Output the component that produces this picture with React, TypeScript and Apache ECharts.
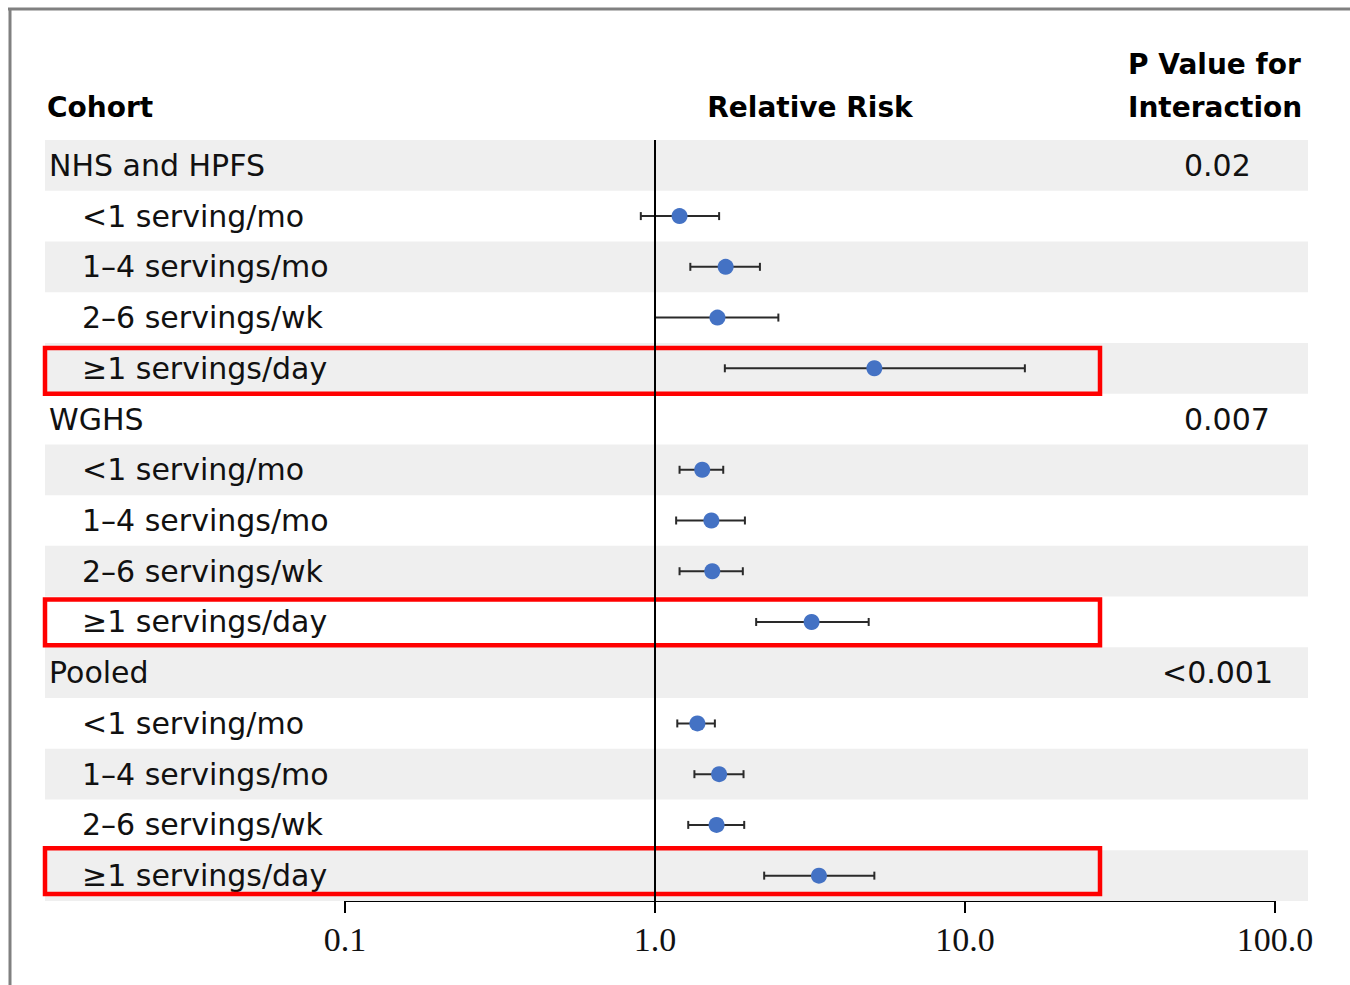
import React, { useEffect, useRef } from "react";
import * as echarts from "echarts";

// ---- Data ----
const rowLabels = [
  "NHS and HPFS",
  "<1 serving/mo",
  "1–4 servings/mo",
  "2–6 servings/wk",
  "≥1 servings/day",
  "WGHS",
  "<1 serving/mo",
  "1–4 servings/mo",
  "2–6 servings/wk",
  "≥1 servings/day",
  "Pooled",
  "<1 serving/mo",
  "1–4 servings/mo",
  "2–6 servings/wk",
  "≥1 servings/day",
];
const isGroupRow = [true, false, false, false, false, true, false, false, false, false, true, false, false, false, false];
const relativeRisk = [null, 1.2, 1.69, 1.59, 5.1, null, 1.42, 1.52, 1.53, 3.2, null, 1.37, 1.61, 1.58, 3.38];
const ciLow = [null, 0.9, 1.3, 1.0, 1.68, null, 1.2, 1.17, 1.2, 2.12, null, 1.18, 1.34, 1.28, 2.25];
const ciHigh = [null, 1.61, 2.18, 2.5, 15.6, null, 1.66, 1.95, 1.92, 4.89, null, 1.56, 1.93, 1.94, 5.1];
const pValues = ["0.02", "", "", "", "", "0.007", "", "", "", "", "<0.001", "", "", "", ""];
const highlightedRows = [4, 9, 14];
const tickLabels = ["0.1", "1.0", "10.0", "100.0"];

const SANS = "DejaVu Sans";
const boxOffsets = [2, 0, -5];

export default function App() {
  const ref = useRef<HTMLDivElement>(null);

  useEffect(() => {
    document.body.style.margin = "0";
    if (!ref.current) return;
    const chart = echarts.init(ref.current, undefined, { renderer: "svg" });

    const rowData = rowLabels.map((_, i) => [0, i]);
    const barData: any[] = [];
    const pointData: any[] = [];
    rowLabels.forEach((_, i) => {
      if (relativeRisk[i] != null) {
        barData.push([ciLow[i], ciHigh[i], i]);
        pointData.push([relativeRisk[i], i]);
      }
    });

    const option: any = {
      animation: false,
      backgroundColor: "#ffffff",
      grid: [
        { left: 45, right: 42, top: 140, bottom: 84 },
        { left: 345, right: 75, top: 140, bottom: 84 },
      ],
      xAxis: [
        { gridIndex: 0, type: "value", min: 0, max: 1, show: false },
        {
          gridIndex: 1,
          type: "log",
          logBase: 10,
          min: 0.1,
          max: 100,
          axisLine: { show: true, lineStyle: { color: "#000", width: 2 } },
          axisTick: { show: true, inside: false, length: 12, lineStyle: { color: "#000", width: 2 } },
          minorTick: { show: false },
          splitLine: { show: false },
          axisLabel: {
            margin: 21,
            color: "#111",
            fontFamily: "Liberation Serif",
            fontSize: 34,
            formatter: (v: number) => tickLabels[Math.round(Math.log10(v)) + 1] ?? "",
          },
        },
      ],
      yAxis: [
        { gridIndex: 0, type: "category", data: rowLabels, inverse: true, show: false },
        { gridIndex: 1, type: "category", data: rowLabels, inverse: true, show: false },
      ],
      graphic: [
        { type: "line", shape: { x1: 10, y1: 8, x2: 10, y2: 985 }, style: { stroke: "#808080", lineWidth: 3 } },
        { type: "line", shape: { x1: 8, y1: 9, x2: 1350, y2: 9 }, style: { stroke: "#808080", lineWidth: 3 } },
        {
          type: "text", x: 47, y: 107,
          style: { text: "Cohort", fontFamily: SANS, fontWeight: "bold", fontSize: 28, fill: "#000", verticalAlign: "middle", align: "left" },
        },
        {
          type: "text", x: 810, y: 107,
          style: { text: "Relative Risk", fontFamily: SANS, fontWeight: "bold", fontSize: 28, fill: "#000", verticalAlign: "middle", align: "center" },
        },
        {
          type: "text", x: 1128, y: 64,
          style: { text: "P Value for", fontFamily: SANS, fontWeight: "bold", fontSize: 28, fill: "#000", verticalAlign: "middle", align: "left" },
        },
        {
          type: "text", x: 1128, y: 107,
          style: { text: "Interaction", fontFamily: SANS, fontWeight: "bold", fontSize: 28, fill: "#000", verticalAlign: "middle", align: "left" },
        },
      ],
      series: [
        {
          type: "custom",
          xAxisIndex: 0,
          yAxisIndex: 0,
          data: rowData,
          encode: { x: 0, y: 1 },
          z: 1,
          renderItem: (params: any, api: any) => {
            const idx = api.value(1);
            const c = api.coord([0, idx]);
            const bandH = api.size([0, 1])[1];
            const cs = params.coordSys;
            const children: any[] = [];
            if (idx % 2 === 0) {
              children.push({
                type: "rect",
                shape: { x: cs.x, y: c[1] - bandH / 2, width: cs.width, height: bandH },
                style: { fill: "#efefef" },
              });
            }
            children.push({
              type: "text",
              x: cs.x + (isGroupRow[idx] ? 4 : 37),
              y: c[1],
              style: {
                text: rowLabels[idx],
                fontFamily: SANS,
                fontSize: 30,
                fill: "#111",
                verticalAlign: "middle",
                align: "left",
              },
            });
            const p = pValues[idx];
            if (p) {
              children.push({
                type: "text",
                x: p.startsWith("<") ? 1162 : 1184,
                y: c[1],
                style: { text: p, fontFamily: SANS, fontSize: 30, fill: "#111", verticalAlign: "middle", align: "left" },
              });
            }
            const hi = highlightedRows.indexOf(idx);
            if (hi >= 0) {
              const off = boxOffsets[hi] || 0;
              children.push({
                type: "rect",
                z2: 50,
                shape: { x: cs.x, y: c[1] - bandH / 2 + 3 + off, width: 1055, height: bandH - 5 },
                style: { fill: "none", stroke: "#ff0000", lineWidth: 4.5 },
              });
            }
            return { type: "group", children };
          },
        },
        {
          type: "custom",
          xAxisIndex: 1,
          yAxisIndex: 1,
          data: barData,
          encode: { x: [0, 1], y: 2 },
          z: 3,
          renderItem: (_params: any, api: any) => {
            const idx = api.value(2);
            const a = api.coord([api.value(0), idx]);
            const b = api.coord([api.value(1), idx]);
            const h = 4;
            const st = { stroke: "#2a2a2a", lineWidth: 2 };
            return {
              type: "group",
              children: [
                { type: "line", shape: { x1: a[0], y1: a[1], x2: b[0], y2: b[1] }, style: st },
                { type: "line", shape: { x1: a[0], y1: a[1] - h, x2: a[0], y2: a[1] + h }, style: st },
                { type: "line", shape: { x1: b[0], y1: b[1] - h, x2: b[0], y2: b[1] + h }, style: st },
              ],
            };
          },
        },
        {
          type: "scatter",
          xAxisIndex: 1,
          yAxisIndex: 1,
          data: pointData,
          symbol: "circle",
          symbolSize: 16,
          z: 4,
          itemStyle: { color: "#4472C4", opacity: 1 },
          markLine: {
            silent: true,
            symbol: "none",
            label: { show: false },
            lineStyle: { color: "#000", width: 2, type: "solid" },
            data: [{ xAxis: 1 }],
          },
        },
      ],
    };

    chart.setOption(option);
    return () => chart.dispose();
  }, []);

  return <div ref={ref} style={{ width: 1350, height: 985 }} />;
}
